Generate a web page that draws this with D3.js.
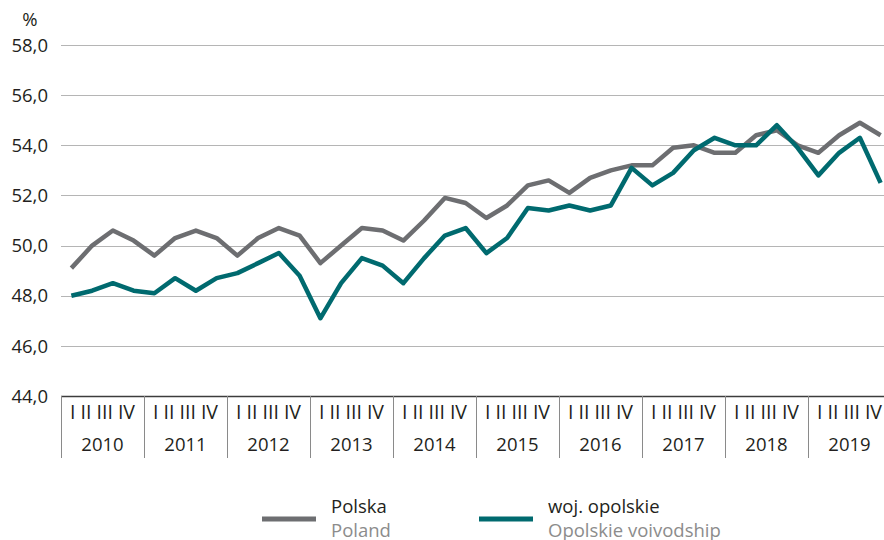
<html>
<head>
<meta charset="utf-8">
<style>
	body { margin:0; padding:0; background:#fff; font-family:"Open Sans", sans-serif; }
	.grid line { stroke:#b5b5b5; stroke-width:1; }
	.ylab { fill:#231f20; font-size:18.5px; }
	.qlab { fill:#231f20; font-size:19.5px; }
	.yrlab { fill:#231f20; font-size:18.5px; }
	.sep { stroke:#8a8a8a; stroke-width:1; }
	.series { fill:none; stroke-width:4.5; stroke-linejoin:round; }
</style>
</head>
<body>
<svg width="884" height="540"></svg>
<script src="https://d3js.org/d3.v7.min.js"></script>
<script>

	var years = [2010, 2011, 2012, 2013, 2014, 2015, 2016, 2017, 2018, 2019];
	var quarters = ["I", "II", "III", "IV"];
	var yTicks = [44, 46, 48, 50, 52, 54, 56, 58];

	// wartosci kwartalne 2010 Q1 - 2019 Q4
	var polska = [49.1, 50.0, 50.6, 50.2, 49.6, 50.3, 50.6, 50.3, 49.6, 50.3,
		50.7, 50.4, 49.3, 50.0, 50.7, 50.6, 50.2, 51.0, 51.9, 51.7,
		51.1, 51.6, 52.4, 52.6, 52.1, 52.7, 53.0, 53.2, 53.2, 53.9,
		54.0, 53.7, 53.7, 54.4, 54.6, 54.0, 53.7, 54.4, 54.9, 54.4];
	var opolskie = [48.0, 48.2, 48.5, 48.2, 48.1, 48.7, 48.2, 48.7, 48.9, 49.3,
		49.7, 48.8, 47.1, 48.5, 49.5, 49.2, 48.5, 49.5, 50.4, 50.7,
		49.7, 50.3, 51.5, 51.4, 51.6, 51.4, 51.6, 53.1, 52.4, 52.9,
		53.8, 54.3, 54.0, 54.0, 54.8, 53.9, 52.8, 53.7, 54.3, 52.5];

	var colours = { polska: "#6d6e71", opolskie: "#006a6f" };

	var svg = d3.select("svg");
	var plotLeft = 61, plotRight = 891, plotTop = 45, plotBottom = 396;

	var keys = [];
	years.forEach(function(yr) {
		quarters.forEach(function(q) { keys.push(yr + "-" + q); });
	});

	var x = d3.scaleBand().domain(keys).range([plotLeft, plotRight]);
	var xYear = d3.scaleBand().domain(years).range([plotLeft, plotRight]);
	var y = d3.scaleLinear().domain([44, 58]).range([plotBottom, plotTop]);

	// siatka
	svg.append("g").attr("class", "grid")
		.selectAll("line")
		.data(yTicks.filter(function(d) { return d > 44; }))
		.enter().append("line")
		.attr("x1", plotLeft).attr("x2", 884)
		.attr("y1", function(d) { return Math.round(y(d)) + 0.5; })
		.attr("y2", function(d) { return Math.round(y(d)) + 0.5; });

	svg.append("g")
		.selectAll("text")
		.data(yTicks)
		.enter().append("text")
		.attr("class", "ylab")
		.attr("x", 48)
		.attr("y", function(d) { return y(d); })
		.attr("dy", "0.36em")
		.attr("text-anchor", "end")
		.text(function(d) { return d.toFixed(1).replace(".", ","); });

	svg.append("text").attr("class", "ylab")
		.attr("x", 30).attr("y", 26)
		.attr("text-anchor", "middle")
		.text("%");

	// os x
	svg.append("line")
		.attr("x1", plotLeft).attr("x2", 884)
		.attr("y1", plotBottom + 0.5).attr("y2", plotBottom + 0.5)
		.attr("stroke", "#3c3c3c").attr("stroke-width", 1.3);

	var yearG = svg.append("g")
		.selectAll("g")
		.data(years)
		.enter().append("g");

	yearG.append("line").attr("class", "sep")
		.attr("x1", function(d) { return Math.round(xYear(d)) + 0.5; })
		.attr("x2", function(d) { return Math.round(xYear(d)) + 0.5; })
		.attr("y1", plotBottom).attr("y2", 458);

	yearG.append("text").attr("class", "qlab")
		.attr("x", function(d) { return xYear(d) + xYear.bandwidth() / 2; })
		.attr("y", 419)
		.attr("text-anchor", "middle")
		.text(quarters.join(" "));

	yearG.append("text").attr("class", "yrlab")
		.attr("x", function(d) { return xYear(d) + xYear.bandwidth() / 2; })
		.attr("y", 451)
		.attr("text-anchor", "middle")
		.text(function(d) { return d; });

	// linie
	var line = d3.line()
		.x(function(d, i) { return x(keys[i]) + x.bandwidth() / 2; })
		.y(function(d) { return y(d); });

	svg.append("path").attr("class", "series")
		.attr("stroke", colours.polska)
		.attr("d", line(polska));

	svg.append("path").attr("class", "series")
		.attr("stroke", colours.opolskie)
		.attr("d", line(opolskie));

	// legenda
	var legend = [
		{ x: 262, pl: "Polska", en: "Poland", c: colours.polska },
		{ x: 479, pl: "woj. opolskie", en: "Opolskie voivodship", c: colours.opolskie }
	];

	var lg = svg.append("g").selectAll("g").data(legend).enter().append("g");

	lg.append("line")
		.attr("x1", function(d) { return d.x; })
		.attr("x2", function(d) { return d.x + 54; })
		.attr("y1", 519).attr("y2", 519)
		.attr("stroke", function(d) { return d.c; })
		.attr("stroke-width", 5);

	lg.append("text")
		.attr("x", function(d) { return d.x + 69; })
		.attr("y", 513)
		.attr("fill", "#231f20")
		.style("font-size", "18.5px")
		.text(function(d) { return d.pl; });

	lg.append("text")
		.attr("x", function(d) { return d.x + 69; })
		.attr("y", 537)
		.attr("fill", "#8c8c8c")
		.style("font-size", "18.5px")
		.text(function(d) { return d.en; });

</script>
</body>
</html>
